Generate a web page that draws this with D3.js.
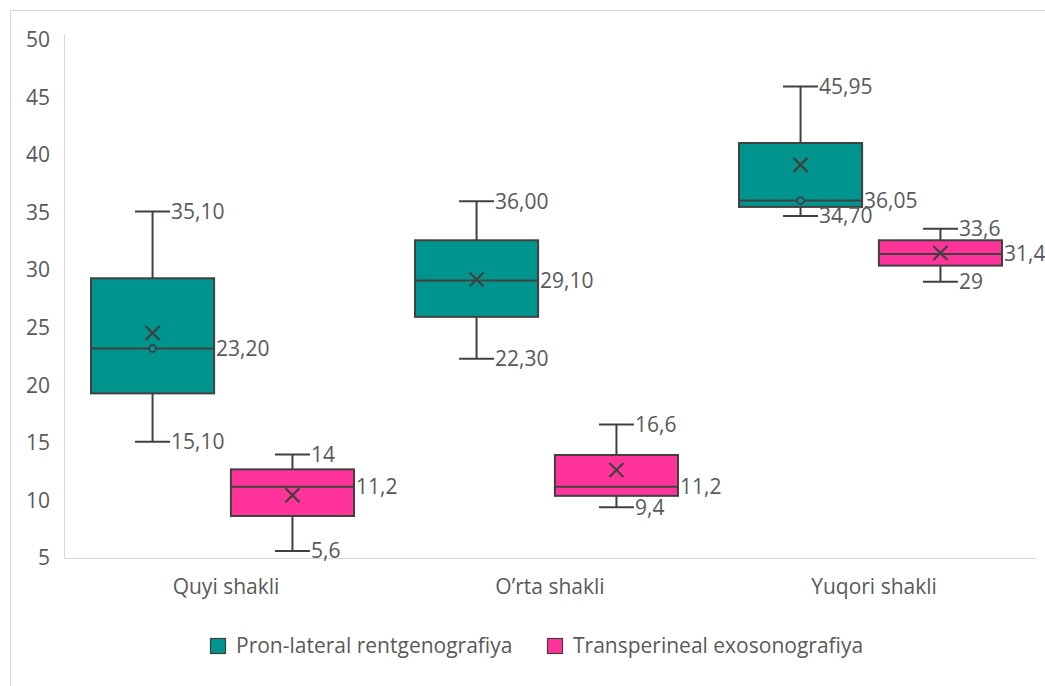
<!DOCTYPE html>
<html><head><meta charset="utf-8">
<script src="https://cdn.jsdelivr.net/npm/d3@7"></script>
<style>body{margin:0;background:#fff}svg{display:block}</style>
</head><body>
<svg id="c" width="1045" height="686"></svg>
<script>
const categories = ["Quyi shakli", "O\u2019rta shakli", "Yuqori shakli"];
const seriesNames = ["Pron-lateral rentgenografiya", "Transperineal exosonografiya"];
const seriesColors = ["#00948F", "#FF3399"];
const yTicks = [5, 10, 15, 20, 25, 30, 35, 40, 45, 50];
// per series, per category
const minVals    = [[15.10, 22.30, 34.70], [5.6, 9.4, 29]];
const q1Vals     = [[19.3, 25.95, 35.5], [8.65, 10.4, 30.4]];
const medianVals = [[23.20, 29.10, 36.05], [11.2, 11.2, 31.4]];
const q3Vals     = [[29.3, 32.6, 41.05], [12.7, 13.95, 32.6]];
const maxVals    = [[35.10, 36.00, 45.95], [14, 16.6, 33.6]];
const meanVals   = [[24.55, 29.2, 39.15], [10.45, 12.65, 31.5]];
const innerPts   = [[[23.2], [], [36.05]], [[], [], []]];
const labelDecimals = [2, null];

const svg = d3.select("#c");
const textColor = "#595959", lineColor = "#404040";
const font = "'Open Sans', sans-serif";
const fs = 21;

// outer frame (top and left edges visible)
svg.append("line").attr("x1", 10).attr("x2", 1045).attr("y1", 10.5).attr("y2", 10.5).attr("stroke", "#d9d9d9");
svg.append("line").attr("x1", 10.5).attr("x2", 10.5).attr("y1", 10).attr("y2", 686).attr("stroke", "#d9d9d9");

const y = d3.scaleLinear().domain([5, 50]).range([558, 40]);
const x0 = d3.scaleBand().domain(categories).range([64, 1036]).padding(0);
const x1 = d3.scaleBand().domain(seriesNames).range([27, 290]).paddingInner(0.12);

// axis lines
svg.append("line").attr("x1", 64.5).attr("x2", 64.5).attr("y1", y(50) - 6).attr("y2", y(5))
  .attr("stroke", "#d9d9d9");
svg.append("line").attr("x1", 64).attr("x2", 1036).attr("y1", y(5) + 0.5).attr("y2", y(5) + 0.5)
  .attr("stroke", "#d9d9d9");

const yAxis = d3.axisLeft(y).tickValues(yTicks).tickSize(0).tickPadding(14);
const ya = svg.append("g").attr("transform", "translate(64,0)").call(yAxis);
ya.select(".domain").remove();
ya.selectAll("text").attr("font-family", font).attr("font-size", fs).attr("fill", textColor);

const xAxis = d3.axisBottom(x0).tickSize(0).tickPadding(21);
const xa = svg.append("g").attr("transform", `translate(0,${y(5)})`).call(xAxis);
xa.select(".domain").remove();
xa.selectAll("text").attr("font-family", font).attr("font-size", fs).attr("fill", textColor);

function fmt(v, d) {
  const s = d == null ? String(v) : v.toFixed(d);
  return s.replace(".", ",");
}

seriesNames.forEach((s, si) => {
  categories.forEach((c, ci) => {
    const left = x0(c) + x1(s), bw = x1.bandwidth(), cx = left + bw / 2;
    const capW = 35;
    const g = svg.append("g");
    g.append("line").attr("x1", cx).attr("x2", cx).attr("y1", y(maxVals[si][ci])).attr("y2", y(q3Vals[si][ci]))
      .attr("stroke", lineColor).attr("stroke-width", 2);
    g.append("line").attr("x1", cx).attr("x2", cx).attr("y1", y(q1Vals[si][ci])).attr("y2", y(minVals[si][ci]))
      .attr("stroke", lineColor).attr("stroke-width", 2);
    [maxVals[si][ci], minVals[si][ci]].forEach(v => {
      g.append("line").attr("x1", cx - capW / 2).attr("x2", cx + capW / 2).attr("y1", y(v)).attr("y2", y(v))
        .attr("stroke", lineColor).attr("stroke-width", 2);
    });
    g.append("rect").attr("x", left).attr("y", y(q3Vals[si][ci])).attr("width", bw)
      .attr("height", y(q1Vals[si][ci]) - y(q3Vals[si][ci]))
      .attr("fill", seriesColors[si]).attr("stroke", lineColor).attr("stroke-width", 2);
    g.append("line").attr("x1", left).attr("x2", left + bw).attr("y1", y(medianVals[si][ci])).attr("y2", y(medianVals[si][ci]))
      .attr("stroke", lineColor).attr("stroke-width", 2);
    const my = y(meanVals[si][ci]), r = 7;
    g.append("path").attr("d", `M${cx - r},${my - r}L${cx + r},${my + r}M${cx - r},${my + r}L${cx + r},${my - r}`)
      .attr("stroke", lineColor).attr("stroke-width", 2.2).attr("fill", "none");
    innerPts[si][ci].forEach(v => {
      g.append("circle").attr("cx", cx).attr("cy", y(v)).attr("r", 3.5)
        .attr("fill", seriesColors[si]).attr("stroke", lineColor).attr("stroke-width", 1.8);
    });
    const lab = (xx, v) => g.append("text").attr("x", xx).attr("y", y(v)).attr("dy", "0.35em")
      .attr("font-family", font).attr("font-size", fs).attr("fill", textColor).text(fmt(v, labelDecimals[si]));
    lab(cx + capW / 2 + 1, maxVals[si][ci]);
    lab(left + bw + 2, medianVals[si][ci]);
    lab(cx + capW / 2 + 1, minVals[si][ci]);
  });
});

const legX = [210, 547];
seriesNames.forEach((s, i) => {
  const lg = svg.append("g").attr("transform", `translate(${legX[i]},638)`);
  lg.append("rect").attr("x", 0.5).attr("y", 0.5).attr("width", 15).attr("height", 15)
    .attr("fill", seriesColors[i]).attr("stroke", lineColor).attr("stroke-width", 1.2);
  lg.append("text").attr("x", 26).attr("y", 8).attr("dy", "0.35em").attr("font-family", font)
    .attr("font-size", fs).attr("fill", textColor).text(s);
});
</script>
</body></html>
